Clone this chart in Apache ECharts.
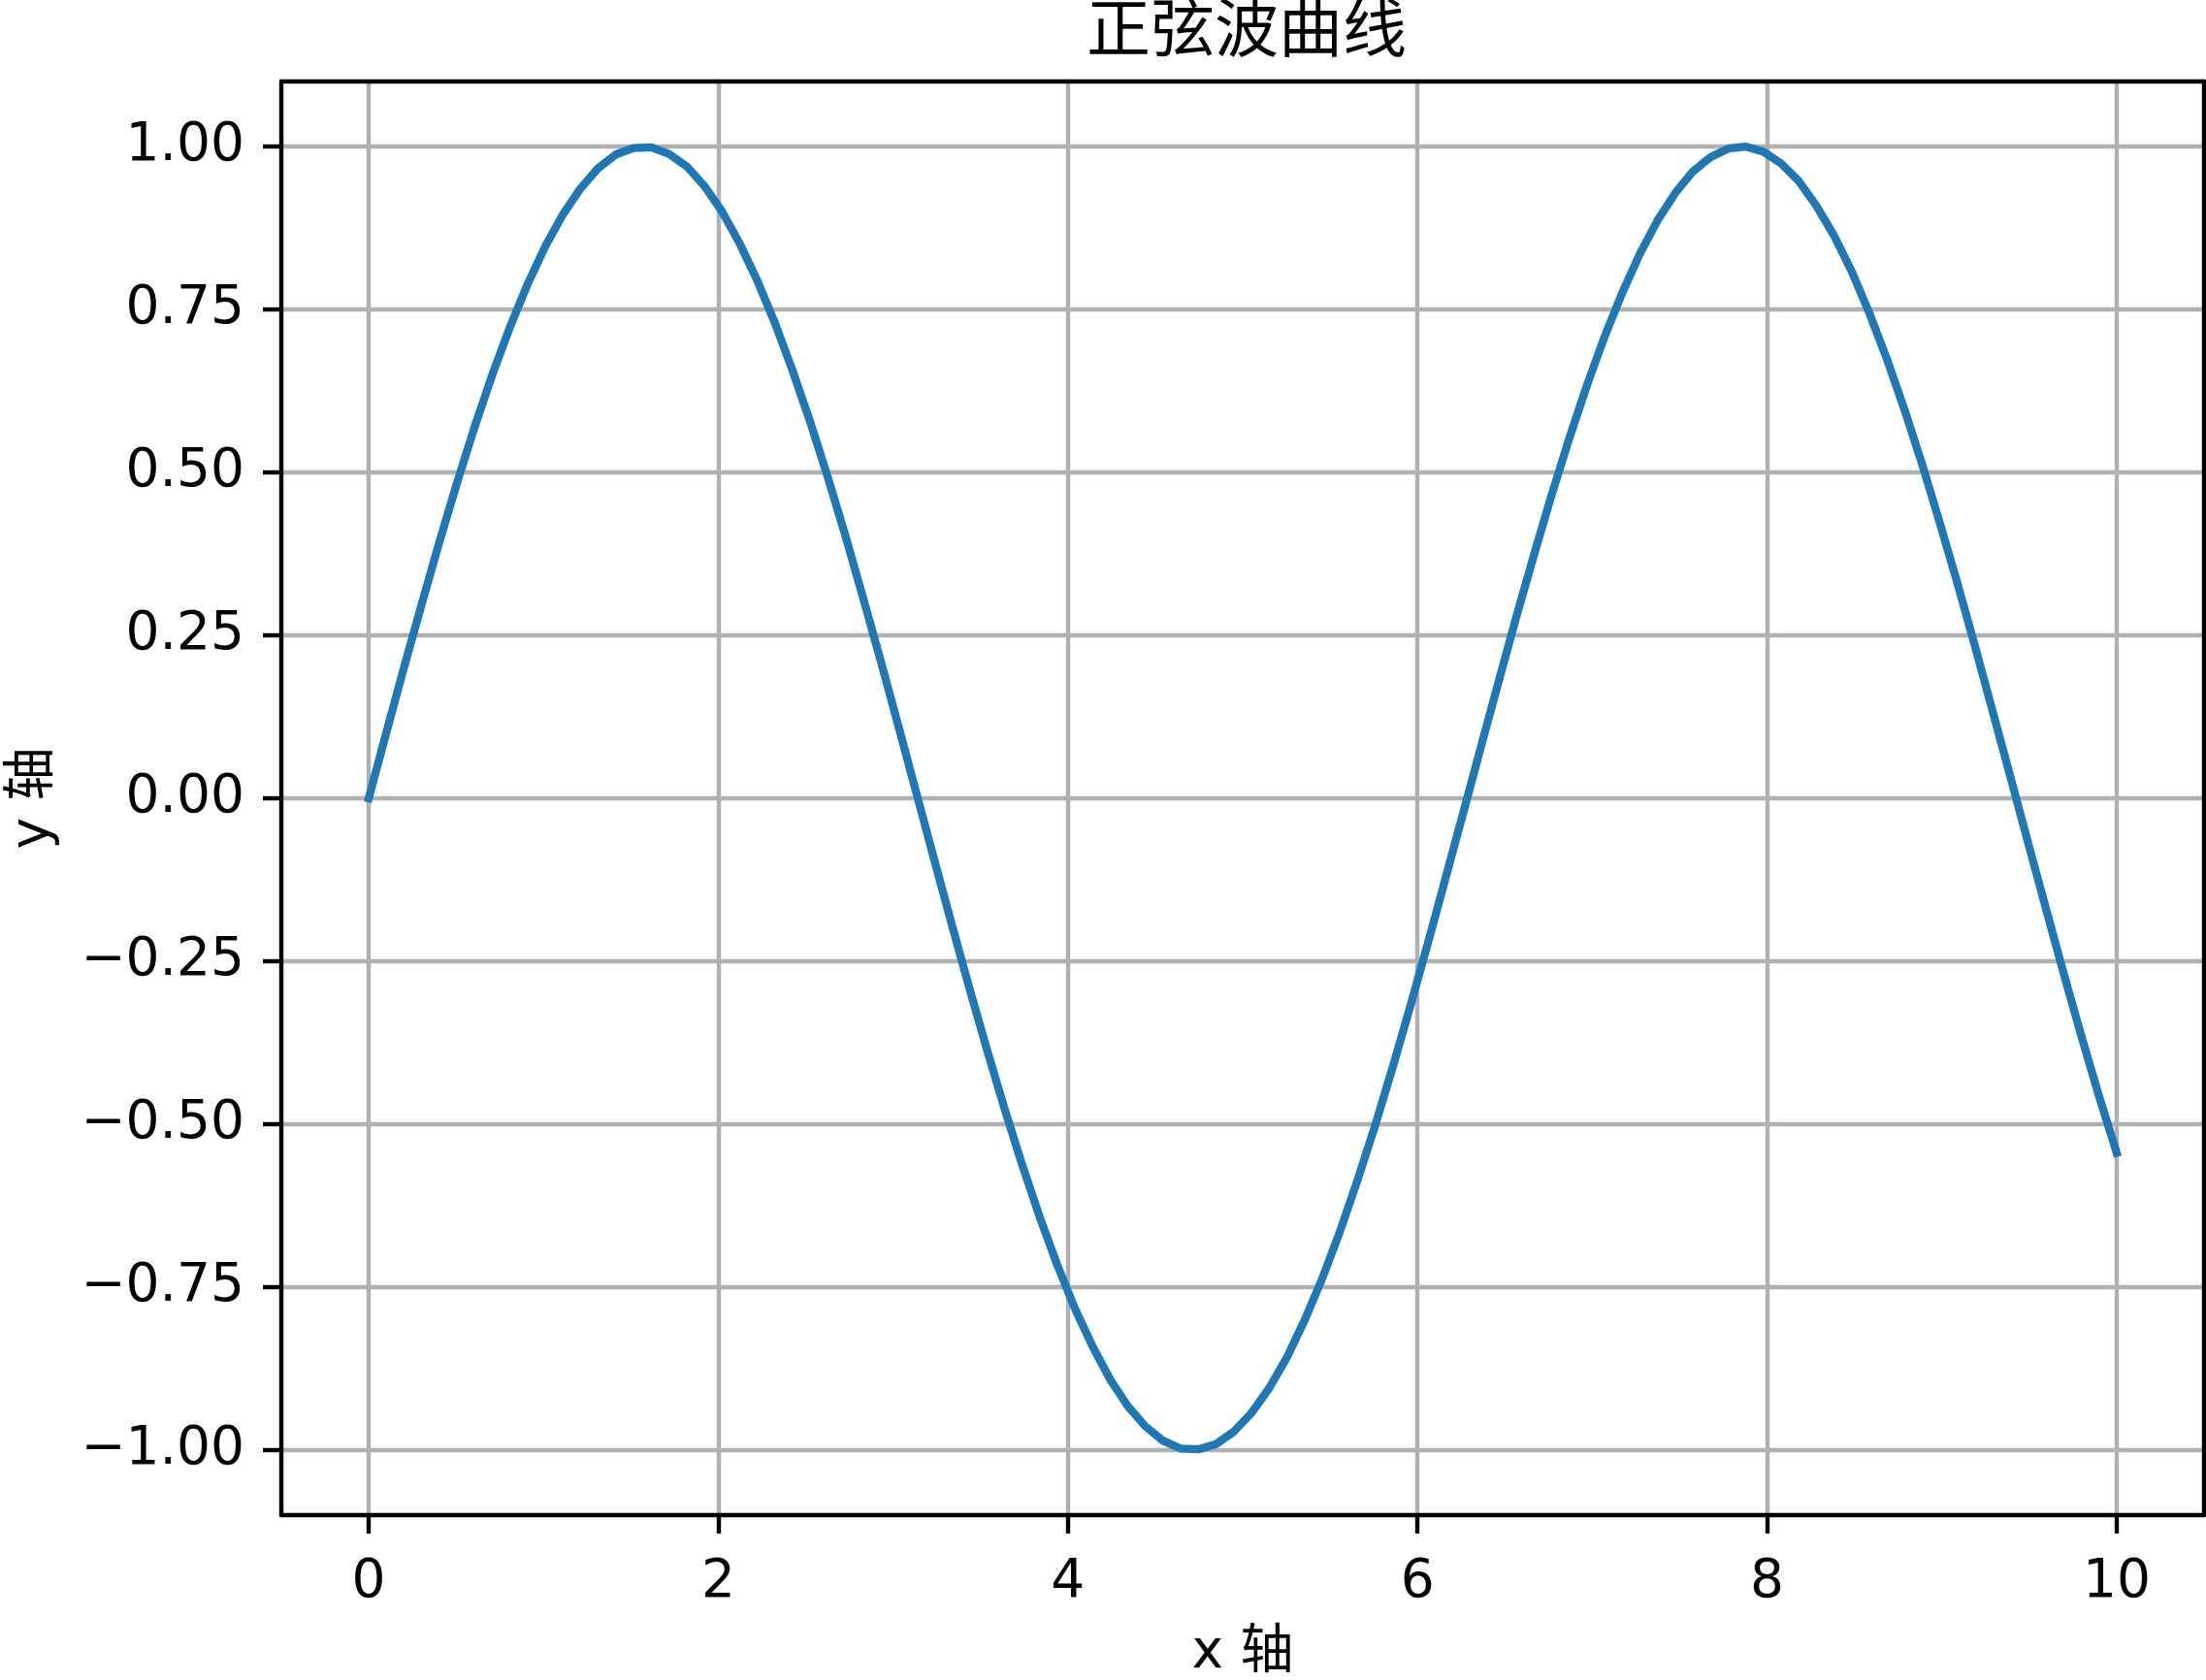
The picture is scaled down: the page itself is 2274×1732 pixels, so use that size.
<!doctype html>
<html lang='zh-CN'>
<head>
<title>正弦波曲线</title>
<meta charset='utf-8'>
<style>
html, body { margin: 0; padding: 0; background: #fff; }
.echarts-line { width: 2274px; height: 1732px; }
</style>
</head>

<body>
<div class="echarts-line"></div>
<script src="https://cdn.jsdelivr.net/npm/echarts@6/dist/echarts.min.js"></script>
<script>
// x 取值 (0 ~ 10 共 100 个点)
const xValues = [
    0, 0.101, 0.202, 0.303, 0.404, 0.505, 0.606, 0.707, 0.808, 0.909,
    1.010, 1.111, 1.212, 1.313, 1.414, 1.515, 1.616, 1.717, 1.818, 1.919,
    2.020, 2.121, 2.222, 2.323, 2.424, 2.525, 2.626, 2.727, 2.828, 2.929,
    3.030, 3.131, 3.232, 3.333, 3.434, 3.535, 3.636, 3.737, 3.838, 3.939,
    4.040, 4.141, 4.242, 4.343, 4.444, 4.545, 4.646, 4.747, 4.848, 4.949,
    5.051, 5.152, 5.253, 5.354, 5.455, 5.556, 5.657, 5.758, 5.859, 5.960,
    6.061, 6.162, 6.263, 6.364, 6.465, 6.566, 6.667, 6.768, 6.869, 6.970,
    7.071, 7.172, 7.273, 7.374, 7.475, 7.576, 7.677, 7.778, 7.879, 7.980,
    8.081, 8.182, 8.283, 8.384, 8.485, 8.586, 8.687, 8.788, 8.889, 8.990,
    9.091, 9.192, 9.293, 9.394, 9.495, 9.596, 9.697, 9.798, 9.899, 10
];
// y 取值
const yValues = [
    0.000, 0.101, 0.201, 0.298, 0.393, 0.484, 0.570, 0.650, 0.723, 0.789,
    0.847, 0.896, 0.936, 0.967, 0.988, 0.998, 0.999, 0.989, 0.970, 0.940,
    0.901, 0.852, 0.795, 0.730, 0.657, 0.578, 0.493, 0.403, 0.308, 0.211,
    0.111, 0.010, -0.091, -0.191, -0.289, -0.384, -0.475, -0.561, -0.642, -0.716,
    -0.783, -0.841, -0.892, -0.933, -0.964, -0.986, -0.998, -0.999, -0.991, -0.972,
    -0.943, -0.905, -0.858, -0.801, -0.737, -0.665, -0.586, -0.502, -0.412, -0.318,
    -0.221, -0.121, -0.021, 0.080, 0.180, 0.279, 0.374, 0.466, 0.553, 0.634,
    0.709, 0.776, 0.836, 0.887, 0.929, 0.962, 0.984, 0.997, 1.000, 0.992,
    0.974, 0.947, 0.909, 0.863, 0.808, 0.744, 0.673, 0.595, 0.511, 0.421,
    0.328, 0.231, 0.131, 0.031, -0.070, -0.170, -0.269, -0.365, -0.457, -0.544
];
// 刻度
const xTicks = [0, 2, 4, 6, 8, 10];
const yTicks = [-1, -0.75, -0.5, -0.25, 0, 0.25, 0.5, 0.75, 1];

const FONT = "'DejaVu Sans', 'Noto Sans CJK SC', sans-serif";
const lineW = 4.4;

// 坐标框的上/右边框
const frameAxis = {
    axisLine: { show: true, onZero: false, lineStyle: { color: '#000', width: lineW } },
    axisTick: { show: false },
    axisLabel: { show: false },
    splitLine: { show: false }
};

const option = {
    animation: false,
    backgroundColor: '#fff',
    title: {
        text: '正弦波曲线',
        left: 1280,
        textAlign: 'center',
        top: -2,
        textStyle: { fontFamily: FONT, fontSize: 66, fontWeight: 'normal', color: '#000' }
    },
    grid: { left: 290, right: 2, top: 84, bottom: 170, containLabel: false, outerBoundsMode: 'none' },
    xAxis: [{
        type: 'value',
        min: -0.5,
        max: 10.5,
        name: 'x 轴',
        nameLocation: 'middle',
        nameGap: 115,
        nameMoveOverlap: false,
        nameTextStyle: { fontFamily: FONT, fontSize: 55, color: '#000' },
        axisLine: { show: true, onZero: false, lineStyle: { color: '#000', width: lineW } },
        axisTick: { show: true, length: 19, customValues: xTicks, lineStyle: { color: '#000', width: lineW } },
        axisLabel: {
            customValues: xTicks,
            margin: 42,
            fontFamily: FONT, fontSize: 55, color: '#000',
            formatter: v => String(v)
        },
        splitLine: { show: true, lineStyle: { color: '#b0b0b0', width: lineW } }
    }, Object.assign({ type: 'value', position: 'top', min: -0.5, max: 10.5 }, frameAxis)],
    yAxis: [{
        type: 'value',
        min: -1.1,
        max: 1.1,
        name: 'y 轴',
        nameLocation: 'middle',
        nameGap: 228,
        nameMoveOverlap: false,
        nameTextStyle: { fontFamily: FONT, fontSize: 55, color: '#000' },
        axisLine: { show: true, onZero: false, lineStyle: { color: '#000', width: lineW } },
        axisTick: { show: true, length: 19, customValues: yTicks, lineStyle: { color: '#000', width: lineW } },
        axisLabel: {
            customValues: yTicks,
            margin: 38,
            padding: [12, 0, 0, 0],
            fontFamily: FONT, fontSize: 55, color: '#000',
            formatter: v => v.toFixed(2).replace('-', '\u2212')
        },
        splitLine: { show: true, lineStyle: { color: '#b0b0b0', width: lineW } }
    }, Object.assign({ type: 'value', position: 'right', min: -1.1, max: 1.1 }, frameAxis)],
    series: [{
        type: 'line',
        data: xValues.map((x, i) => [x, yValues[i]]),
        showSymbol: false,
        smooth: false,
        lineStyle: { color: '#1f77b4', width: 8.3, join: 'round', cap: 'square' },
        z: 3
    }]
};

const chart = echarts.init(document.querySelector('.echarts-line'));
chart.setOption(option);
</script>
</body>

</html>
